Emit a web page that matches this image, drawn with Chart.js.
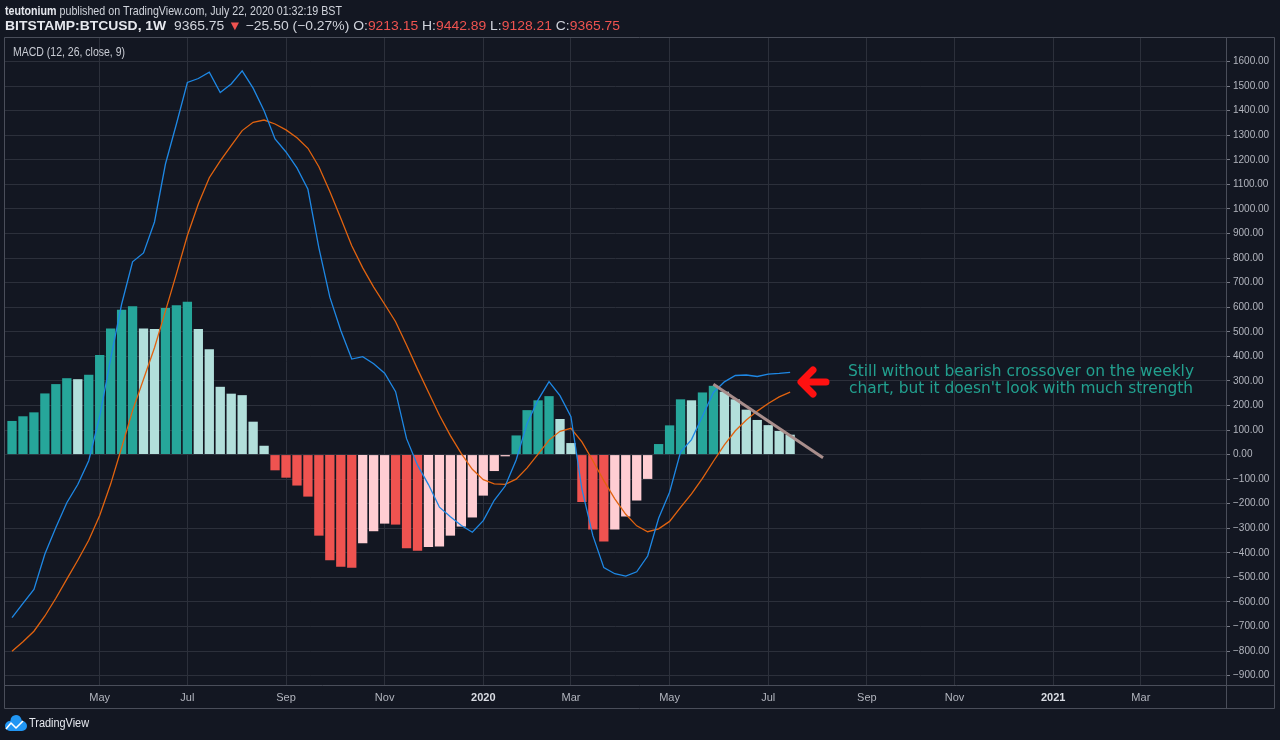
<!DOCTYPE html>
<html>
<head>
<meta charset="utf-8">
<script src="https://cdn.jsdelivr.net/npm/chart.js@4.4.1/dist/chart.umd.min.js"></script>
<style>
  html, body { margin: 0; padding: 0; background: #131722; }
  #wrap { width: 1280px; height: 740px; position: relative; }
</style>
</head>
<body>
<div id="wrap"><canvas id="macd" width="1280" height="740"></canvas></div>
<script>
// Dados (semanas a partir de 11/03/2019)

const histograma = [
  137, 156, 172, 249, 287, 311, 307, 325, 405, 513,
  590, 604, 513, 511, 597, 608, 622, 511, 429, 276,
  248, 242, 134, 36, -64, -94, -126, -171, -330, -430,
  -457, -461, -361, -312, -281, -285, -381, -391, -376, -374,
  -330, -293, -256, -167, -67, -7, 78, 181, 221, 238,
  145, 47, -193, -305, -354, -305, -252, -187, -99, 43,
  119, 225, 221, 253, 280, 256, 225, 183, 141, 120,
  96, 81
];

const linhaMacd = [
  -664, -606, -549, -405, -297, -196, -122, -25, 155, 390,
  612, 785, 821, 947, 1183, 1346, 1515, 1531, 1557, 1474,
  1509, 1562, 1492, 1400, 1285, 1232, 1167, 1080, 842, 641,
  505, 389, 399, 370, 331, 256, 65, -43, -122, -214,
  -253, -289, -316, -269, -186, -128, -22, 127, 223, 297,
  240, 154, -141, -330, -460, -485, -495, -477, -413, -259,
  -153, 10, 61, 156, 253, 296, 322, 324, 318, 328,
  331, 335
];

const linhaSinal = [
  -801, -762, -719, -657, -585, -507, -430, -349, -248, -120,
  28, 179, 307, 435, 584, 736, 892, 1020, 1127, 1196,
  1258, 1319, 1353, 1362, 1346, 1322, 1290, 1247, 1172, 1071,
  962, 850, 760, 682, 612, 541, 446, 348, 254, 160,
  77, 4, -60, -102, -119, -121, -100, -54, 2, 59,
  95, 107, 52, -25, -106, -180, -243, -290, -314, -302,
  -272, -215, -160, -97, -27, 40, 97, 141, 177, 208,
  235, 254
];

// primeira semana de cada mes marcado no eixo de tempo
const semanasTick = [8, 16, 25, 34, 43, 51, 60, 69, 78, 86, 95, 103];
const rotulosTick = ['May', 'Jul', 'Sep', 'Nov', '2020', 'Mar', 'May', 'Jul', 'Sep', 'Nov', '2021', 'Mar'];

const precoTicks = [
  -900, -800, -700, -600, -500, -400, -300, -200, -100, 0,
  100, 200, 300, 400, 500, 600, 700, 800, 900, 1000,
  1100, 1200, 1300, 1400, 1500, 1600
];

// linha de tendencia desenhada a mao
const tendenciaX = [64, 74];
const tendenciaY = [286, -13];

const semanas = histograma.map((v, i) => i);

function cores_histograma(valores) {
  return valores.map(function(v, i) {
    let anterior = i > 0 ? valores[i - 1] : null;
    if (v >= 0) {
      return (anterior === null || v >= anterior) ? '#26a69a' : '#b2dfdb';
    }
    return (anterior === null || v < anterior) ? '#ef5350' : '#ffcdd2';
  });
}

const FONTE = '"Liberation Sans", "DejaVu Sans", sans-serif';

// escreve uma linha de texto com varias partes, esticada ate a largura pedida
function escreve_linha(ctx, partes, x, y, largura) {
  let total = 0;
  partes.forEach(function(p) {
    ctx.font = p.fonte;
    total += ctx.measureText(p.texto).width;
  });
  ctx.save();
  ctx.translate(x, y);
  ctx.scale(largura / total, 1);
  ctx.textBaseline = 'alphabetic';
  ctx.textAlign = 'left';
  let cx = 0;
  partes.forEach(function(p) {
    ctx.font = p.fonte;
    ctx.fillStyle = p.cor;
    ctx.fillText(p.texto, cx, 0);
    cx += ctx.measureText(p.texto).width;
  });
  ctx.restore();
}

const fundo = {
  id: 'fundo',
  beforeDraw(chart) {
    const ctx = chart.ctx;
    ctx.save();
    ctx.fillStyle = '#131722';
    ctx.fillRect(0, 0, chart.width, chart.height);
    ctx.restore();
  }
};

const moldura = {
  id: 'moldura',
  afterDraw(chart) {
    const ctx = chart.ctx;
    const area = chart.chartArea;
    ctx.save();

    // bordas do painel
    ctx.strokeStyle = '#4a4e5a';
    ctx.lineWidth = 1;
    ctx.beginPath();
    ctx.rect(area.left - 0.5, area.top - 0.5, 1274 - area.left + 1, 708 - area.top + 1);
    ctx.moveTo(area.left, area.bottom + 0.5);
    ctx.lineTo(1274, area.bottom + 0.5);
    ctx.moveTo(area.right + 0.5, area.top);
    ctx.lineTo(area.right + 0.5, 708);
    ctx.stroke();

    // cabecalho
    const branco = '#d1d4dc';
    const vermelho = '#ef5350';
    const normal = '13px ' + FONTE;
    const negrito = 'bold 13px ' + FONTE;
    escreve_linha(ctx, [
      { texto: 'teutonium', fonte: negrito, cor: '#e6e8ee' },
      { texto: ' published on TradingView.com, July 22, 2020 01:32:19 BST', fonte: normal, cor: branco }
    ], 5, 14.5, 337);
    escreve_linha(ctx, [
      { texto: 'BITSTAMP:BTCUSD, 1W', fonte: negrito, cor: '#e6e8ee' },
      { texto: '  9365.75 ', fonte: normal, cor: branco },
      { texto: '\u25BC', fonte: normal, cor: vermelho },
      { texto: ' \u221225.50 (\u22120.27%) O:', fonte: normal, cor: branco },
      { texto: '9213.15', fonte: normal, cor: vermelho },
      { texto: ' H:', fonte: normal, cor: branco },
      { texto: '9442.89', fonte: normal, cor: vermelho },
      { texto: ' L:', fonte: normal, cor: branco },
      { texto: '9128.21', fonte: normal, cor: vermelho },
      { texto: ' C:', fonte: normal, cor: branco },
      { texto: '9365.75', fonte: normal, cor: vermelho }
    ], 5, 29.5, 615);

    escreve_linha(ctx, [
      { texto: 'MACD (12, 26, close, 9)', fonte: '12px ' + FONTE, cor: '#c9ccd4' }
    ], 13, 56, 112);

    // comentario
    const fonteNota = '16px "DejaVu Sans", sans-serif';
    escreve_linha(ctx, [
      { texto: 'Still without bearish crossover on the weekly', fonte: fonteNota, cor: '#22a08f' }
    ], 848, 376, 346);
    escreve_linha(ctx, [
      { texto: "chart, but it doesn't look with much strength", fonte: fonteNota, cor: '#22a08f' }
    ], 849, 392.5, 344);

    // seta vermelha
    ctx.strokeStyle = '#ff1111';
    ctx.lineWidth = 7;
    ctx.lineCap = 'round';
    ctx.lineJoin = 'round';
    ctx.beginPath();
    ctx.moveTo(826, 382);
    ctx.lineTo(802, 382);
    ctx.moveTo(813, 370);
    ctx.lineTo(801, 382);
    ctx.lineTo(813, 394);
    ctx.stroke();

    // logo
    ctx.fillStyle = '#2196f3';
    ctx.beginPath();
    ctx.arc(10, 726, 5, Math.PI * 0.5, Math.PI * 1.5);
    ctx.arc(16, 720.5, 5.5, Math.PI, Math.PI * 1.9);
    ctx.arc(22, 726, 5, Math.PI * 1.5, Math.PI * 0.5);
    ctx.closePath();
    ctx.fill();
    ctx.strokeStyle = '#ffffff';
    ctx.lineWidth = 1.6;
    ctx.lineCap = 'butt';
    ctx.beginPath();
    ctx.moveTo(6, 729);
    ctx.lineTo(11, 723);
    ctx.lineTo(16, 728);
    ctx.lineTo(23, 721);
    ctx.stroke();
    escreve_linha(ctx, [
      { texto: 'TradingView', fonte: '12px ' + FONTE, cor: '#e6e8ee' }
    ], 29, 727, 60);

    ctx.restore();
  }
};

const ctx = document.getElementById('macd').getContext('2d');

new Chart(ctx, {
  type: 'bar',
  data: {
    labels: semanas,
    datasets: [
      {
        type: 'line',
        label: 'Trend',
        data: tendenciaX.map((x, i) => ({ x: x, y: tendenciaY[i] })),
        borderColor: '#a98e8c',
        borderWidth: 3,
        pointRadius: 0,
        order: 0
      },
      {
        type: 'line',
        label: 'MACD',
        data: linhaMacd,
        borderColor: '#1e88e5',
        borderWidth: 1.3,
        pointRadius: 0,
        tension: 0,
        order: 1
      },
      {
        type: 'line',
        label: 'Signal',
        data: linhaSinal,
        borderColor: '#e2630f',
        borderWidth: 1.3,
        pointRadius: 0,
        tension: 0,
        order: 2
      },
      {
        type: 'bar',
        label: 'Histogram',
        data: histograma,
        backgroundColor: cores_histograma(histograma),
        borderWidth: 0,
        barPercentage: 0.85,
        categoryPercentage: 1,
        order: 3
      }
    ]
  },
  options: {
    responsive: false,
    animation: false,
    devicePixelRatio: 1,
    layout: { padding: { left: 5, right: 6, top: 38, bottom: 32 } },
    plugins: {
      legend: { display: false },
      tooltip: { enabled: false }
    },
    scales: {
      x: {
        type: 'linear',
        min: -0.64,
        max: 110.77,
        offset: false,
        afterBuildTicks: function(scale) {
          scale.ticks = semanasTick.map(v => ({ value: v }));
        },
        afterFit: function(scale) { scale.height = 23; },
        grid: { color: '#2c303b', drawTicks: false, offset: false },
        border: { display: false },
        ticks: {
          autoSkip: false,
          maxRotation: 0,
          padding: 6,
          callback: (value, index) => rotulosTick[index],
          color: (c) => rotulosTick[c.index] && rotulosTick[c.index].length === 4 ? '#d9dce3' : '#b2b5be',
          font: (c) => ({
            family: FONTE,
            size: 11,
            weight: rotulosTick[c.index] && rotulosTick[c.index].length === 4 ? 'bold' : 'normal'
          })
        }
      },
      y: {
        position: 'right',
        min: -938,
        max: 1696,
        afterBuildTicks: function(scale) {
          scale.ticks = precoTicks.map(v => ({ value: v }));
        },
        afterFit: function(scale) { scale.width = 48; },
        grid: { color: '#2c303b', tickColor: '#787b86', tickLength: 4 },
        border: { display: false },
        ticks: {
          padding: 3,
          color: '#b2b5be',
          font: { family: FONTE, size: 10 },
          callback: (v) => (v < 0 ? '\u2212' + Math.abs(v).toFixed(2) : v.toFixed(2))
        }
      }
    }
  },
  plugins: [fundo, moldura]
});
</script>
</body>
</html>
